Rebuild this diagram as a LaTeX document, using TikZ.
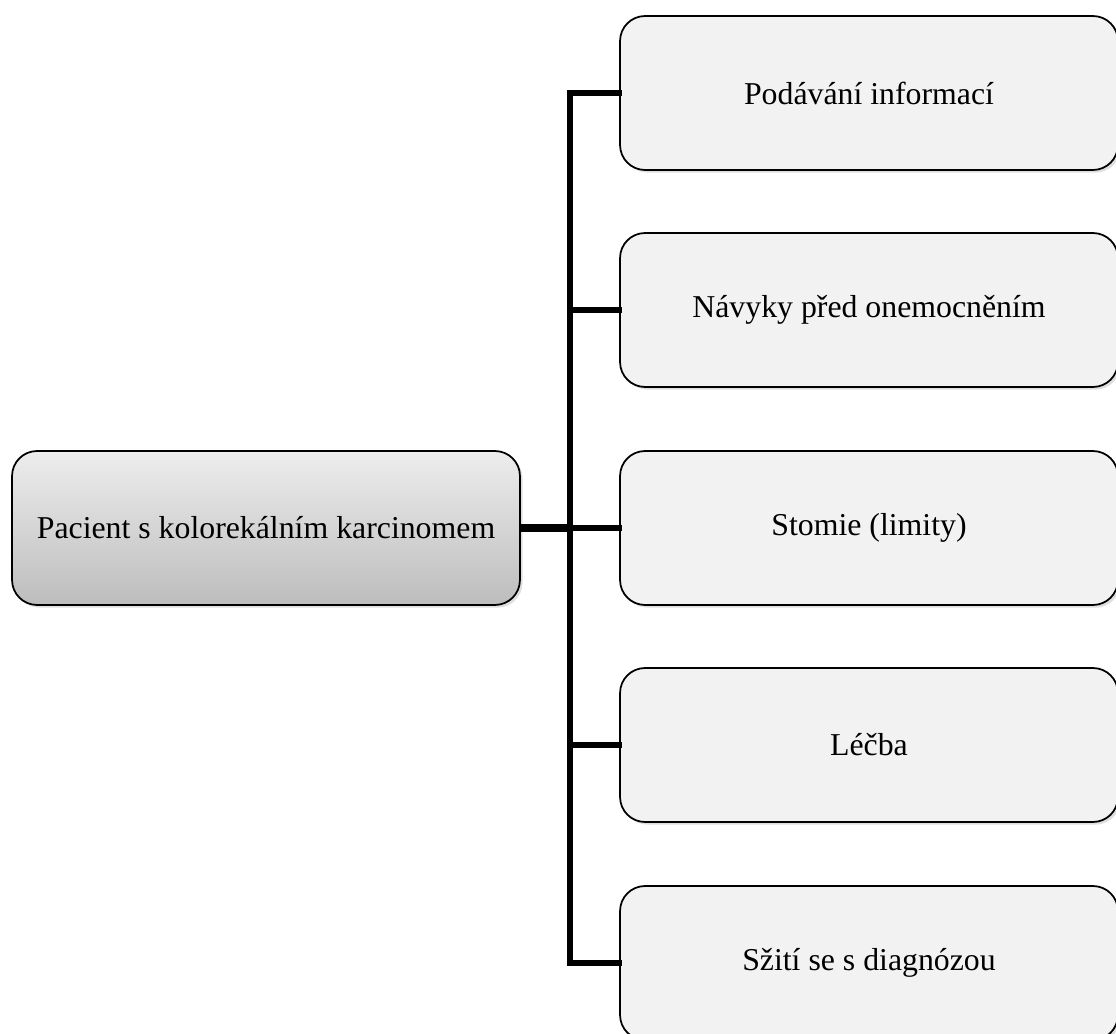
\documentclass[tikz,border=0pt]{standalone}
\usepackage{fontspec}
\setmainfont{Liberation Serif}
\usetikzlibrary{shadows}

\tikzset{
  box/.style={draw=black, line width=1pt, rounded corners=0.5cm,
    minimum width=9.96cm, minimum height=3.08cm, fill=black!5,
    font=\fontsize{18.1}{22}\selectfont,
    drop shadow={opacity=0.25, shadow xshift=1.5pt, shadow yshift=-1.5pt}},
  rootbox/.style={box, minimum width=10.16cm, fill=none,
    top color=black!7, bottom color=black!26},
  branch/.style={line width=3.4pt, line cap=rect,
    preaction={draw=black!25, transform canvas={shift={(1.2pt,-1.2pt)}}}},
}

\begin{document}
\begin{tikzpicture}[x=0.02cm, y=-0.02cm]
                \useasboundingbox (0,0) rectangle (1116,1034);

                \node[rootbox] (root) at (266,528) {Pacient s kolorekálním karcinomem};

                \node[box] (b1) at (869,93)  {Podávání informací};
                \node[box] (b2) at (869,310) {Návyky před onemocněním};
                \node[box] (b3) at (869,528) {Stomie (limity)};
                \node[box] (b4) at (869,745) {Léčba};
                \node[box] (b5) at (869,963) {Sžití se s diagnózou};

                \coordinate (trunk) at (570,528);
                \draw[branch, line width=4pt, line cap=butt] (root) -- (trunk);
                \foreach \b in {b1,b2,b3,b4,b5}
                    \draw[branch] (trunk) |- (\b.west);
            \end{tikzpicture}
\end{document}
